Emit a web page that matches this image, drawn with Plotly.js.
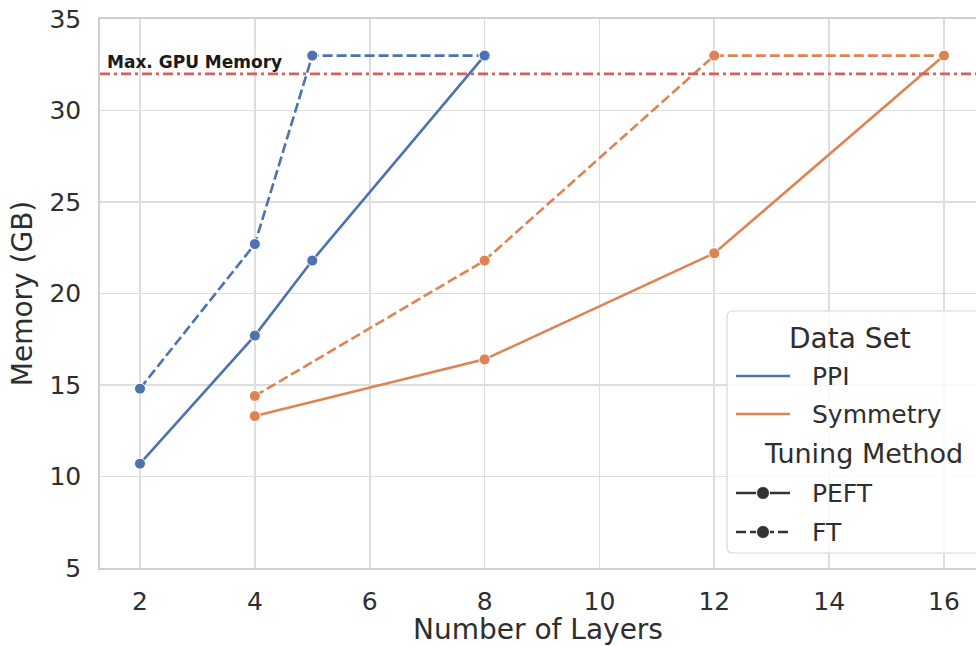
<!DOCTYPE html>
<html>
<head>
<meta charset="utf-8">
<script src="https://cdn.plot.ly/plotly-3.0.1.min.js"></script>
<style>html,body{margin:0;padding:0;background:#fff;}#chart{width:976px;height:646px;}</style>
</head>
<body>
<div id="chart"></div>
<script>
// ---- data ----
const ppiLayersPEFT = [2, 4, 5, 8];
const ppiMemPEFT    = [10.7, 17.7, 21.8, 33];
const ppiLayersFT   = [2, 4, 5, 8];
const ppiMemFT      = [14.8, 22.7, 33, 33];
const symLayersPEFT = [4, 8, 12, 16];
const symMemPEFT    = [13.3, 16.4, 22.2, 33];
const symLayersFT   = [4, 8, 12, 16];
const symMemFT      = [14.4, 21.8, 33, 33];
const maxGPU = 32;
const maxGPULabel = "Max. GPU Memory";
const xTicks = [2, 4, 6, 8, 10, 12, 14, 16];
const yTicks = [5, 10, 15, 20, 25, 30, 35];
const dataSetNames = ["PPI", "Symmetry"];
const methodNames = ["PEFT", "FT"];

const BLUE = "#4c72b0", ORANGE = "#dd8452", RED = "#d65f5f", TXT = "#2e2e2e", GRID = "#dedede";
const FONT = "DejaVu Sans, sans-serif";

function tr(x, y, color, dash) {
  return {
    x: x, y: y, type: "scatter", mode: "lines+markers",
    line: {color: color, width: 2.6, dash: dash},
    marker: {color: color, size: 11, line: {color: "#ffffff", width: 1}},
    showlegend: false, hoverinfo: "x+y"
  };
}
const traces = [
  tr(ppiLayersFT, ppiMemFT, BLUE, "10px,4px"),
  tr(ppiLayersPEFT, ppiMemPEFT, BLUE, "solid"),
  tr(symLayersFT, symMemFT, ORANGE, "10px,4px"),
  tr(symLayersPEFT, symMemPEFT, ORANGE, "solid")
];

// plot area in pixels: x 100..976, y 19..568
const PL = 100, PR = 976, PT = 19, PB = 568;
const px = v => (v - PL) / (PR - PL);
const py = v => (PB - v) / (PB - PT);

const shapes = [
  {type: "line", xref: "paper", yref: "y", x0: 0, x1: 1, y0: maxGPU, y1: maxGPU,
   line: {color: RED, width: 2.6, dash: "10px,4px,3px,4px"}, layer: "above"},
  // legend box
  {type: "path", xref: "paper", yref: "paper", layer: "above",
   path: (() => {
     const l = px(727), r = px(995), t = py(311), b = py(553);
     const rx = 6 / (PR - PL), ry = 6 / (PB - PT);
     return `M ${l+rx},${t} L ${r},${t} L ${r},${b} L ${l+rx},${b} Q ${l},${b} ${l},${b+ry} L ${l},${t-ry} Q ${l},${t} ${l+rx},${t} Z`;
   })(),
   fillcolor: "rgba(255,255,255,0.8)", line: {color: "#d8d8d8", width: 1.2}},
  {type: "line", xref: "paper", yref: "paper", layer: "above", x0: px(736), x1: px(790), y0: py(376), y1: py(376), line: {color: BLUE, width: 2.6}},
  {type: "line", xref: "paper", yref: "paper", layer: "above", x0: px(736), x1: px(790), y0: py(414), y1: py(414), line: {color: ORANGE, width: 2.6}},
  {type: "line", xref: "paper", yref: "paper", layer: "above", x0: px(736), x1: px(790), y0: py(493), y1: py(493), line: {color: "#333333", width: 2.6}},
  {type: "line", xref: "paper", yref: "paper", layer: "above", x0: px(736), x1: px(790), y0: py(532), y1: py(532), line: {color: "#333333", width: 2.6, dash: "10px,4px"}},
  {type: "circle", xref: "paper", yref: "paper", layer: "above", x0: px(756.5), x1: px(769.5), y0: py(486.5), y1: py(499.5), fillcolor: "#333333", line: {color: "#ffffff", width: 1}},
  {type: "circle", xref: "paper", yref: "paper", layer: "above", x0: px(756.5), x1: px(769.5), y0: py(525.5), y1: py(538.5), fillcolor: "#333333", line: {color: "#ffffff", width: 1}}
];

const annFont = {family: FONT, size: 25, color: TXT};
const annotations = [
  {x: 1.39, y: maxGPU + 0.65, xref: "x", yref: "y", text: "<b>" + maxGPULabel + "</b>", showarrow: false,
   xanchor: "left", yanchor: "middle", font: {family: FONT, size: 17, color: "#1a1a1a"}},
  {x: px(850), y: py(338), xref: "paper", yref: "paper", text: "Data Set", showarrow: false, xanchor: "center", yanchor: "middle", font: {family: FONT, size: 28, color: TXT}},
  {x: px(810), y: py(376), xref: "paper", yref: "paper", text: dataSetNames[0], showarrow: false, xanchor: "left", yanchor: "middle", font: annFont},
  {x: px(810), y: py(414), xref: "paper", yref: "paper", text: dataSetNames[1], showarrow: false, xanchor: "left", yanchor: "middle", font: annFont},
  {x: px(863), y: py(453), xref: "paper", yref: "paper", text: "Tuning Method", showarrow: false, xanchor: "center", yanchor: "middle", font: {family: FONT, size: 27, color: TXT}},
  {x: px(810), y: py(493), xref: "paper", yref: "paper", text: methodNames[0], showarrow: false, xanchor: "left", yanchor: "middle", font: annFont},
  {x: px(810), y: py(532), xref: "paper", yref: "paper", text: methodNames[1], showarrow: false, xanchor: "left", yanchor: "middle", font: annFont}
];

const layout = {
  width: 976, height: 646,
  margin: {l: PL, r: 976 - PR, t: PT, b: 646 - PB, pad: 0},
  paper_bgcolor: "#ffffff", plot_bgcolor: "#ffffff",
  font: {family: FONT, color: TXT},
  showlegend: false,
  xaxis: {
    range: [1.3035, 16.557], tickvals: xTicks, ticktext: xTicks.map(String),
    showgrid: true, gridcolor: GRID, gridwidth: 1.8,
    showline: true, linecolor: "#d0d0d0", linewidth: 1.8, mirror: true,
    zeroline: false, ticks: "", ticklabelstandoff: 10,
    tickfont: {family: FONT, size: 25, color: TXT},
    title: {text: "Number of Layers", font: {family: FONT, size: 28, color: TXT}, standoff: 8},
    automargin: false
  },
  yaxis: {
    range: [5, 35], tickvals: yTicks, ticktext: yTicks.map(String),
    showgrid: true, gridcolor: GRID, gridwidth: 1.8,
    showline: true, linecolor: "#d0d0d0", linewidth: 1.8,
    zeroline: false, ticks: "", ticklabelstandoff: 12,
    tickfont: {family: FONT, size: 25, color: TXT},
    title: {text: "Memory (GB)", font: {family: FONT, size: 28, color: TXT}, standoff: 8},
    automargin: false
  },
  shapes: shapes,
  annotations: annotations
};

Plotly.newPlot("chart", traces, layout, {displayModeBar: false, staticPlot: true});
</script>
</body>
</html>
